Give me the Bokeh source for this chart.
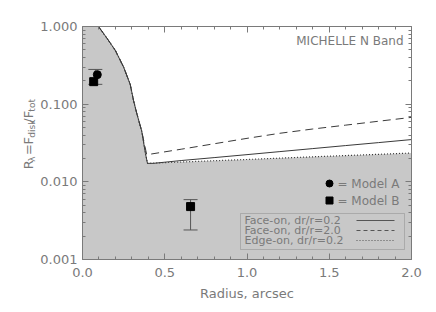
import math
from bokeh.plotting import figure
from bokeh.layouts import row
from bokeh.models import (Range1d, FixedTicker, PrintfTickFormatter, LinearAxis, LogAxis,
                          Label, BoxAnnotation, CustomJSTickFormatter)
from bokeh.embed import file_html
from bokeh.resources import INLINE

# ---------------- data ----------------
r_inner = [0.097, 0.15, 0.20, 0.25, 0.29, 0.31, 0.33, 0.36, 0.383, 0.395]
f_inner = [1.0, 0.70, 0.49, 0.30, 0.18, 0.112, 0.076, 0.045, 0.023, 0.0173]

r_dash_inner = [0.097, 0.15, 0.20, 0.25, 0.29, 0.31, 0.33, 0.36, 0.39]
f_dash_inner = [1.0, 0.70, 0.49, 0.30, 0.18, 0.112, 0.076, 0.045, 0.0225]

r_outer = [0.43, 0.6, 0.8, 1.0, 1.2, 1.4, 1.6, 1.8, 2.0]
face_02 = [0.0173, 0.0188, 0.0205, 0.0224, 0.0245, 0.0268, 0.0293, 0.0320, 0.0350]
r_outer_d = [0.40, 0.6, 0.8, 1.0, 1.2, 1.4, 1.6, 1.8, 2.0]
face_20 = [0.0225, 0.0263, 0.0309, 0.0363, 0.0422, 0.0479, 0.0537, 0.0603, 0.0676]
edge_02 = [0.0173, 0.0180, 0.0187, 0.0194, 0.0202, 0.0210, 0.0218, 0.0226, 0.0235]

modelA_r = [0.090]
modelA_f = [0.24]
modelB_r = [0.068, 0.657]
modelB_f = [0.195, 0.0048]
err_r = [0.078, 0.657]
err_lo = [0.18, 0.0024]
err_hi = [0.28, 0.0059]

x_ticks = [0.0, 0.5, 1.0, 1.5, 2.0]
y_ticks = [0.001, 0.01, 0.1, 1.0]

legend_lines = ["Face-on, dr/r=0.2", "Face-on, dr/r=2.0", "Edge-on, dr/r=0.2"]

# ---------------- styling ----------------
GRAY_TXT = "#7a7a7a"
AXIS = "#7a7a7a"
FILL = "#c8c8c8"
LINE = "#3a3a3a"
FONT = "DejaVu Sans"
W, H = 436, 312
LW = 36  # width of the side panel holding the y-axis title

# pixel helpers for annotation placement (image coordinates)
FL, FR, FT, FB = 82, 411, 26, 259
def xd(px):
    return (px - FL) / (FR - FL) * 2.0
def yd(py):
    return 10 ** (-(py - FT) / ((FB - FT) / 3.0))

p = figure(width=W - LW, height=H, output_backend="svg", toolbar_location=None,
           x_range=Range1d(0, 2), y_range=Range1d(0.001, 1.0), y_axis_type="log",
           min_border_left=FL - LW, min_border_right=W - FR, min_border_top=FT,
           min_border_bottom=H - FB)
p.outline_line_color = None
p.grid.visible = False
p.background_fill_color = "white"
p.border_fill_color = "white"

x_minor = [i / 10 for i in range(21)]
y_minor = [m * 10 ** e for e in (-3, -2, -1) for m in range(2, 10)]
xt = FixedTicker(ticks=x_ticks, minor_ticks=x_minor)
yt = FixedTicker(ticks=y_ticks, minor_ticks=y_minor)

def style(ax, labels=True):
    ax.axis_line_color = AXIS
    ax.major_tick_line_color = AXIS
    ax.minor_tick_line_color = AXIS
    ax.major_tick_in = 6
    ax.major_tick_out = 0
    ax.minor_tick_in = 3
    ax.minor_tick_out = 0
    ax.major_label_text_font = FONT
    if labels:
        ax.major_label_text_color = GRAY_TXT
        ax.major_label_text_font_size = "13px"
    else:
        ax.formatter = CustomJSTickFormatter(code="return '';")
        ax.major_label_text_color = None
        ax.major_label_text_font_size = "1px"
        ax.major_label_standoff = 0

p.xaxis.ticker = xt
p.xaxis.formatter = PrintfTickFormatter(format="%.1f")
p.yaxis.ticker = yt
p.yaxis.formatter = PrintfTickFormatter(format="%.3f")
style(p.xaxis[0])
style(p.yaxis[0])
p.xaxis.major_label_standoff = 8
p.yaxis.major_label_standoff = 5
p.xaxis.axis_label = "Radius, arcsec"
p.xaxis.axis_label_text_font = FONT
p.xaxis.axis_label_text_font_style = "normal"
p.xaxis.axis_label_text_font_size = "13px"
p.xaxis.axis_label_text_color = GRAY_TXT
p.xaxis.axis_label_standoff = 6

top = LinearAxis(ticker=FixedTicker(ticks=x_ticks, minor_ticks=x_minor))
style(top, labels=False)
p.add_layout(top, "above")
right = LogAxis(ticker=FixedTicker(ticks=y_ticks, minor_ticks=y_minor))
style(right, labels=False)
p.add_layout(right, "right")

# gray shaded region below the edge-on curve
fx = [0.0] + r_inner + r_outer[1:]
fy = [1.0] + f_inner + edge_02[1:]
p.varea(x=fx, y1=[1e-4] * len(fx), y2=fy, fill_color=FILL, fill_alpha=1.0)

# curves
p.line(r_inner + r_outer, f_inner + face_02, line_color=LINE, line_width=1)
p.line(r_dash_inner + r_outer_d, f_dash_inner + face_20, line_color=LINE, line_width=1,
       line_dash="8 5")
p.line(r_inner + r_outer[1:], f_inner + edge_02[1:], line_color=LINE, line_width=1.2,
       line_dash="1 2")

# error bars (drawn below markers)
EB = "#555555"
p.segment(x0=err_r, y0=err_lo, x1=err_r, y1=err_hi, line_color=EB, line_width=1)
p.scatter(err_r, err_lo, marker="dash", size=14, line_color=EB, line_width=1)
p.scatter(err_r, err_hi, marker="dash", size=14, line_color=EB, line_width=1)

p.scatter(modelA_r, modelA_f, marker="circle", size=8, color="black")
p.scatter(modelB_r, modelB_f, marker="square", size=8, color="black")

# title
p.add_layout(Label(x=xd(403), y=yd(40), text="MICHELLE N Band", text_align="right",
                   text_baseline="middle", text_font=FONT, text_font_size="12px",
                   text_color=GRAY_TXT))

# model legend
p.scatter([xd(329)], [yd(183)], marker="circle", size=7, color="black")
p.scatter([xd(329)], [yd(200)], marker="square", size=7, color="black")
for py, name in [(183, "= Model A"), (200, "= Model B")]:
    p.add_layout(Label(x=xd(337), y=yd(py), text=name, text_baseline="middle",
                       text_font=FONT, text_font_size="12px", text_color=GRAY_TXT))

# line legend box
p.add_layout(BoxAnnotation(left=xd(240), right=xd(404), top=yd(213), bottom=yd(249),
                           fill_alpha=0, line_color="#666666", line_width=1))
dashes = ["solid", "4 3", "1 2"]
for i, (txt, dsh) in enumerate(zip(legend_lines, dashes)):
    py = 220 + 10 * i
    p.add_layout(Label(x=xd(244), y=yd(py), text=txt, text_baseline="middle",
                       text_font=FONT, text_font_size="11px", text_color=GRAY_TXT))
    p.line([xd(356), xd(394)], [yd(py), yd(py)], line_color="#555555", line_width=1,
           line_dash=dsh)

# side panel with the rotated y title: R_lambda = F_disk / F_tot
lf = figure(width=LW, height=H, output_backend="svg", toolbar_location=None,
            x_range=Range1d(0, LW), y_range=Range1d(0, H),
            x_axis_location=None, y_axis_location=None,
            min_border_left=0, min_border_right=0, min_border_top=0, min_border_bottom=0)
lf.outline_line_color = None
lf.grid.visible = False
lf.background_fill_color = "white"
lf.border_fill_color = "white"
pieces = [("R", 191, 28, "13px"), ("\u03bb", 181, 31, "9px"), ("=", 172, 28, "13px"),
          ("F", 158, 28, "13px"), ("disk", 149, 31, "9px"), ("/", 129, 28, "13px"),
          ("F", 123, 28, "13px"), ("tot", 114, 31, "9px")]
for txt, py, bx, fs in pieces:
    lf.add_layout(Label(x=bx, y=H - py, text=txt, angle=math.pi / 2,
                        text_align="left", text_baseline="alphabetic",
                        text_font=FONT, text_font_size=fs, text_color=GRAY_TXT))

layout = row(lf, p, spacing=0)
open("out.html", "w").write(file_html(layout, INLINE))
